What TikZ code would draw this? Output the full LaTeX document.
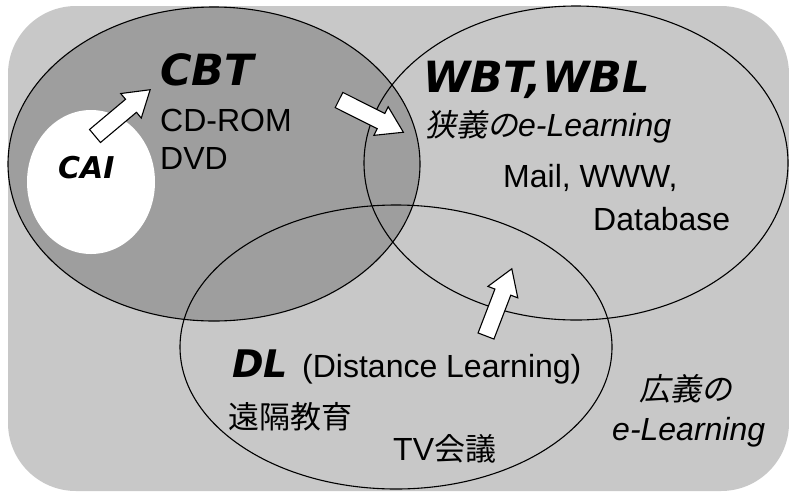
\documentclass[tikz,border=0pt]{standalone}
\usepackage{fontspec}
\setmainfont{Liberation Sans}
\newfontfamily\headfont{DejaVu Sans}
\newfontfamily\jpfont{Noto Sans CJK JP}
\newfontfamily\jpitfont{Noto Sans CJK JP}[FakeSlant=0.2]
\definecolor{bggray}{RGB}{200,200,200}
\definecolor{cbtgray}{RGB}{158,158,158}
\newcommand\blkarrow[3]{%
  \draw[blockarrow, shift={(#1,#2)}, rotate=#3]
    (0,-8.5) -- (47,-8.5) -- (47,-16) -- (72,0) -- (47,16) -- (47,8.5) -- (0,8.5) -- cycle;}
\begin{document}
\begin{tikzpicture}[x=1pt,y=-1pt,
  ring/.style={draw=black, line width=1.1pt},
  blockarrow/.style={draw=black, fill=white, line width=1.1pt, line join=miter},
  txt/.style={inner sep=0pt, anchor=base west, font=\fontsize{32}{38}\selectfont},
  headtxt/.style={inner sep=0pt, anchor=base west, font=\headfont\bfseries\itshape\fontsize{43}{48}\selectfont},
  jptxt/.style={inner sep=0pt, anchor=base west, font=\jpfont\fontsize{31}{36}\selectfont}]
\useasboundingbox (0,0) rectangle (789,491);
% background
\fill[bggray, rounded corners=68pt] (8,6) rectangle (789,491);
% CBT area
\fill[cbtgray] (214,164) ellipse [x radius=206pt, y radius=157pt];
% CAI area
\fill[white] (91,182) ellipse [x radius=64pt, y radius=72pt];
% outlines
\draw[ring] (214,164) ellipse [x radius=206pt, y radius=157pt];
\draw[ring] (576,163) ellipse [x radius=212pt, y radius=157pt];
\draw[ring] (396,347) ellipse [x radius=216pt, y radius=142pt];
% block arrows
\blkarrow{95}{136}{40}
\blkarrow{339}{100}{-26.6}
\blkarrow{486}{336}{69}
% texts
\node[headtxt] (cbt) at (160,85) {CBT};
\node[txt] (cdrom) at (160,131) {CD-ROM};
\node[txt] (dvd) at (160,169) {DVD};
\node[headtxt, font=\headfont\bfseries\itshape\fontsize{30}{34}\selectfont] (cai) at (58,178) {CAI};
\node[headtxt] (wbt) at (423,92) {WBT,WBL};
\node[txt] (narrow) at (425,136) {{\jpitfont\fontsize{31}{36}\selectfont 狭義の}{\itshape e-Learning}};
\node[txt] (mail) at (503,187) {Mail, WWW,};
\node[txt] (db) at (593,230) {Database};
\node[headtxt, font=\headfont\bfseries\itshape\fontsize{38}{44}\selectfont] (dl) at (232,377) {DL};
\node[txt] (dist) at (302,377) {(Distance Learning)};
\node[jptxt] (enkaku) at (228,428) {遠隔教育};
\node[txt] (tv) at (393,460) {TV{\jpfont\fontsize{31}{36}\selectfont 会議}};
\node[jptxt, font=\jpitfont\fontsize{31}{36}\selectfont] (kougi) at (639,400) {広義の};
\node[txt, font=\itshape\fontsize{32}{38}\selectfont] (elearn) at (612,440) {e-Learning};
\end{tikzpicture}
\end{document}
